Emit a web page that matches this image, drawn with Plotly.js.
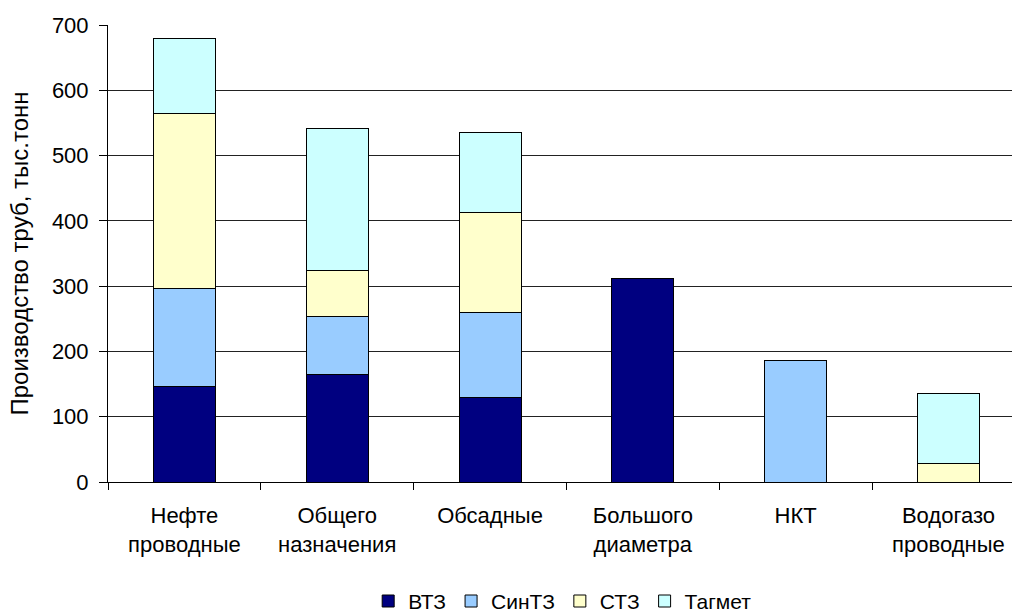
<!DOCTYPE html>
<html>
<head>
<meta charset="utf-8">
<script src="https://cdn.plot.ly/plotly-3.0.1.min.js"></script>
<style>
html,body{margin:0;padding:0;background:#fff;overflow:hidden;}
#chart{width:1012px;height:613px;}
</style>
</head>
<body>
<div id="chart"></div>
<script>
const categories = ["Нефте<br>проводные", "Общего<br>назначения", "Обсадные", "Большого<br>диаметра", "НКТ", "Водогазо<br>проводные"];
const seriesNames = ["ВТЗ", "СинТЗ", "СТЗ", "Тагмет"];
const vtz    = [147, 164, 129, 312, 0, 0];
const sintz  = [149, 89, 131, 0, 186, 0];
const stz    = [268, 71, 153, 0, 0, 28];
const tagmet = [115, 218, 122, 0, 0, 108];
const colors = ["#000080", "#99CCFF", "#FFFFCC", "#CCFFFF"];

const values = [vtz, sintz, stz, tagmet];
const fam = "Liberation Sans, Arial, sans-serif";
const font = {family: fam, size: 21, color: "#000"};
const tickFont = {family: fam, size: 22, color: "#000"};

const traces = values.map((v, i) => ({
  type: "bar",
  name: seriesNames[i],
  x: categories,
  y: v.map(d => d === 0 ? null : d),
  marker: {color: colors[i], line: {color: "#000", width: 1}},
  hoverinfo: "x+y+name"
}));

const layout = {
  width: 1012,
  height: 613,
  margin: {l: 108, r: 0, t: 25, b: 131, autoexpand: false},
  paper_bgcolor: "#fff",
  plot_bgcolor: "#fff",
  barmode: "stack",
  bargap: 0.594,
  font: font,
  showlegend: true,
  legend: {
    orientation: "h",
    x: 0.556, xref: "container", xanchor: "center",
    y: 0.019, yref: "container", yanchor: "middle",
    font: font,
    itemwidth: 30,
    tracegroupgap: 0,
    traceorder: "normal"
  },
  xaxis: {
    type: "category",
    range: [-0.5, 5.416],
    tickson: "boundaries",
    ticks: "outside",
    ticklen: 7,
    tickcolor: "#000",
    showline: true,
    linecolor: "#000",
    linewidth: 1,
    showgrid: false,
    zeroline: false,
    tickfont: tickFont,
    ticklabelstandoff: 14,
    automargin: false
  },
  yaxis: {
    range: [0, 700],
    dtick: 100,
    tick0: 0,
    ticks: "outside",
    ticklen: 8,
    tickcolor: "#000",
    showline: true,
    linecolor: "#000",
    linewidth: 1,
    showgrid: true,
    gridcolor: "#222",
    gridwidth: 1,
    zeroline: false,
    tickfont: tickFont,
    ticklabelstandoff: 6,
    automargin: false,
    title: {text: "Производство труб, тыс.тонн", font: {family: fam, size: 24, color: "#000"}, standoff: 16}
  }
};

Plotly.newPlot("chart", traces, layout, {displayModeBar: false, staticPlot: true});
</script>
</body>
</html>
